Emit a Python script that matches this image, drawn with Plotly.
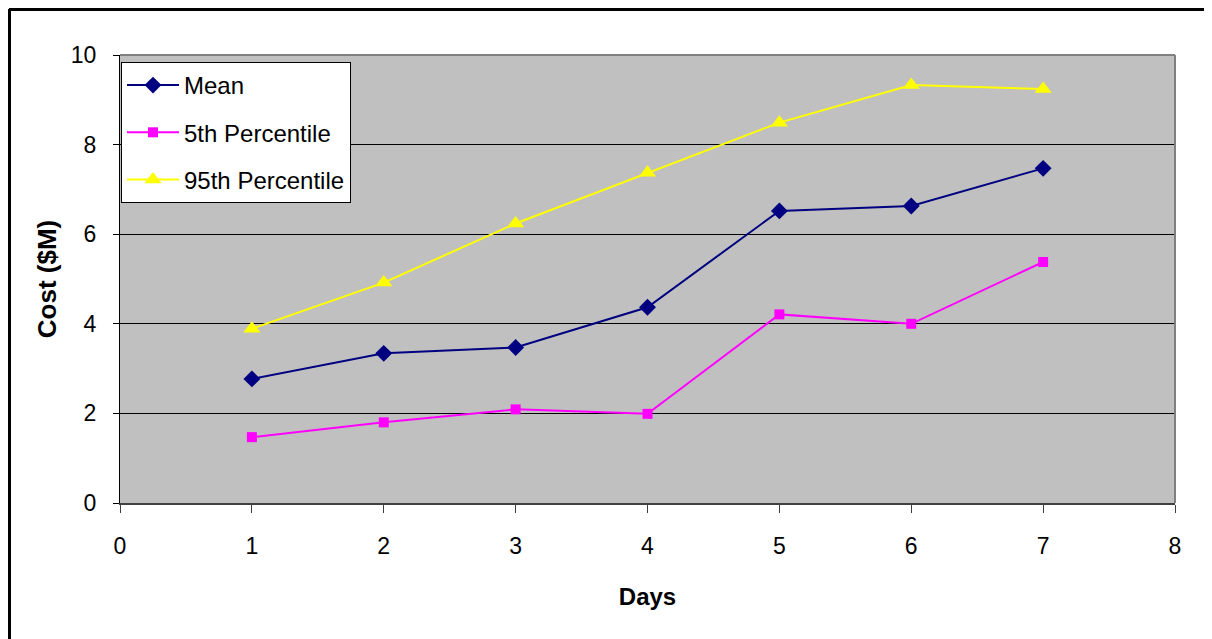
import plotly.graph_objects as go

days = [1, 2, 3, 4, 5, 6, 7]
mean_cost = [2.77, 3.34, 3.47, 4.37, 6.52, 6.63, 7.47]
p5_cost = [1.47, 1.80, 2.09, 1.99, 4.21, 4.00, 5.38]
p95_cost = [3.89, 4.92, 6.24, 7.37, 8.49, 9.33, 9.24]
series_names = ["Mean", "5th Percentile", "95th Percentile"]
x_ticks = [0, 1, 2, 3, 4, 5, 6, 7, 8]
y_ticks = [0, 2, 4, 6, 8, 10]

FONT = "Liberation Sans, Arial, sans-serif"

fig = go.Figure()
fig.add_trace(go.Scatter(x=days, y=mean_cost, name=series_names[0], mode="lines+markers",
                         legendgroup="a",
                         line=dict(color="#000080", width=2),
                         marker=dict(symbol="diamond", size=13, color="#000080")))
fig.add_trace(go.Scatter(x=days, y=p5_cost, name=series_names[1], mode="lines+markers",
                         legendgroup="b",
                         line=dict(color="#FF00FF", width=2),
                         marker=dict(symbol="square", size=10, color="#FF00FF")))
fig.add_trace(go.Scatter(x=days, y=p95_cost, name=series_names[2], mode="lines+markers",
                         legendgroup="c",
                         line=dict(color="#FFFF00", width=2),
                         marker=dict(symbol="triangle-up", size=15, color="#FFFF00")))

# page is offset by the 8px body margin; work in page pixels and convert
OFF = 8
W, H = 1212 - OFF, 639 - OFF
L, T = 120 - OFF, 55 - OFF
R = W - (1175 - OFF)
B = H - (503 - OFF)
pw, ph = W - L - R, H - T - B

def px_x(p):
    return (p - OFF - L) / pw

def px_y(p):
    return (H - B - (p - OFF)) / ph

fig.update_layout(
    width=W, height=H,
    margin=dict(l=L, r=R, t=T, b=B),
    paper_bgcolor="white",
    plot_bgcolor="#C0C0C0",
    font=dict(family=FONT, size=23, color="black"),
    showlegend=True,
    legend=dict(
        x=px_x(121), y=px_y(62), xanchor="left", yanchor="top",
        bgcolor="white", bordercolor="black", borderwidth=1,
        font=dict(family=FONT, size=24, color="black"),
        traceorder="grouped", tracegroupgap=13, itemwidth=52,
    ),
    xaxis=dict(
        range=[0, 8], tickvals=x_ticks, ticktext=[str(v) for v in x_ticks],
        showgrid=False, zeroline=False,
        showline=True, linecolor="#404040", linewidth=2,
        ticks="outside", ticklen=8, tickcolor="#404040", tickwidth=1,
        ticklabelstandoff=13,
        tickfont=dict(family=FONT, size=23, color="black"),
        title=dict(text="<b>Days</b>", font=dict(family=FONT, size=24, color="black"), standoff=31),
        fixedrange=True,
    ),
    yaxis=dict(
        range=[0, 10], tickvals=y_ticks, ticktext=[str(v) for v in y_ticks],
        showgrid=True, gridcolor="black", gridwidth=1, zeroline=False,
        showline=True, linecolor="black", linewidth=1,
        ticks="outside", ticklen=6, tickcolor="black", tickwidth=1,
        ticklabelstandoff=12,
        tickfont=dict(family=FONT, size=23, color="black"),
        title=dict(text="<b>Cost ($M)</b>", font=dict(family=FONT, size=26, color="black"), standoff=6),
        fixedrange=True,
    ),
    shapes=[
        dict(type="line", xref="paper", yref="paper", x0=0, x1=1, y0=1, y1=1,
             line=dict(color="#808080", width=2), layer="above"),
        dict(type="line", xref="paper", yref="paper", x0=1, x1=1, y0=0, y1=1,
             line=dict(color="#808080", width=2), layer="above"),
        # outer chart border (top and left visible)
        dict(type="line", xref="paper", yref="paper", x0=px_x(9), x1=px_x(1230), y0=px_y(9.5), y1=px_y(9.5),
             line=dict(color="black", width=3)),
        dict(type="line", xref="paper", yref="paper", x0=px_x(9.5), x1=px_x(9.5), y0=px_y(9), y1=px_y(660),
             line=dict(color="black", width=3)),
    ],
)

fig.write_html("out.html")
